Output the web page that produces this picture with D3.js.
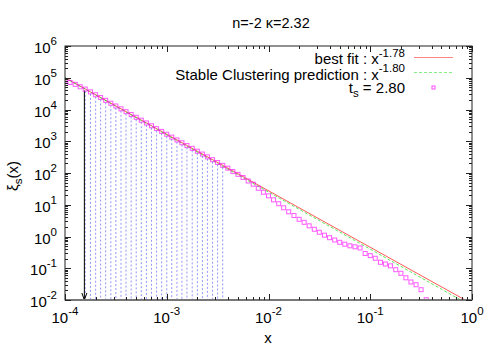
<!DOCTYPE html>
<html>
<head>
<meta charset="utf-8">
<script src="https://cdn.jsdelivr.net/npm/d3@7"></script>
<style>
  body { margin: 0; background: #fff; }
  svg { display: block; }
</style>
</head>
<body>
<div id="chart"></div>
<script>
const width = 500;
const height = 350;
const margin = {top: 46, right: 28, bottom: 50, left: 65};

// x sample points (log spaced)
const xs = [
  1.00e-4, 1.12e-4, 1.26e-4, 1.41e-4, 1.58e-4, 1.78e-4, 2.00e-4, 2.24e-4, 2.51e-4, 2.82e-4,
  3.16e-4, 3.55e-4, 3.98e-4, 4.47e-4, 5.01e-4, 5.62e-4, 6.31e-4, 7.08e-4, 7.94e-4, 8.91e-4,
  1.00e-3, 1.12e-3, 1.26e-3, 1.41e-3, 1.58e-3, 1.78e-3, 2.00e-3, 2.24e-3, 2.51e-3, 2.82e-3,
  3.16e-3, 3.55e-3, 3.98e-3, 4.47e-3, 5.01e-3, 5.62e-3, 6.31e-3, 7.08e-3, 7.94e-3, 8.91e-3,
  1.00e-2, 1.12e-2, 1.26e-2, 1.41e-2, 1.58e-2, 1.78e-2, 2.00e-2, 2.24e-2, 2.51e-2, 2.82e-2,
  3.16e-2, 3.55e-2, 3.98e-2, 4.47e-2, 5.01e-2, 5.62e-2, 6.31e-2, 7.08e-2, 7.94e-2, 8.91e-2,
  1.00e-1, 1.12e-1, 1.26e-1, 1.41e-1, 1.58e-1, 1.78e-1, 2.00e-1, 2.24e-1, 2.51e-1, 2.82e-1,
  3.16e-1, 3.55e-1
];
// xi_s(x) measured values, t_s = 2.80
const xis = [
  7.8e4, 7.1e4, 6.2e4, 5.2e4, 4.4e4, 3.59e4, 2.92e4, 2.38e4, 1.94e4, 1.58e4,
  1.29e4, 1.05e4, 8550, 6970, 5680, 4620, 3770, 3070, 2500, 2040,
  1660, 1350, 1100, 897, 731, 596, 485, 395, 322, 262,
  214, 174, 142, 111, 90.8, 72.4, 56.0, 44.4, 33.0, 24.8,
  19.1, 14.3, 10.8, 8.02, 6.00, 4.58, 3.48, 2.80, 2.17, 1.69,
  1.36, 1.10, 0.917, 0.776, 0.656, 0.572, 0.509, 0.474, 0.435, 0.292,
  0.250, 0.206, 0.154, 0.136, 0.119, 0.0900, 0.0693, 0.0500, 0.0369, 0.0303,
  0.0211, 0.0102
];
// power law fits: amplitude at x=1 and slope
const fitAmp = [0.00759, 0.00631];
const fitSlope = [-1.78, -1.80];
const fitLabels = ["best fit : x", "Stable Clustering prediction : x"];
const fitExps = ["-1.78", "-1.80"];
const fitColors = ["#ff2020", "#20e020"];
// range of the shaded (dotted) region, by sample index, and arrow position
const shadeFrom = 4, shadeTo = 31;
const arrowX = 1.55e-4;
const title = "n=-2 κ=2.32";
const xTicks = [1e-4, 1e-3, 1e-2, 1e-1, 1];
const yTicks = [1e-2, 1e-1, 1, 1e1, 1e2, 1e3, 1e4, 1e5, 1e6];

const font = "'Liberation Sans', Arial, sans-serif";

const svg = d3.select("#chart").append("svg")
    .attr("width", width)
    .attr("height", height)
    .attr("font-family", font)
    .attr("font-size", 15);

const x = d3.scaleLog().domain([1e-4, 1]).range([margin.left, width - margin.right]);
const y = d3.scaleLog().domain([1e-2, 1e6]).range([height - margin.bottom, margin.top]);

svg.append("clipPath").attr("id", "clip")
  .append("rect")
    .attr("x", x.range()[0]).attr("y", y.range()[1])
    .attr("width", x.range()[1] - x.range()[0])
    .attr("height", y.range()[0] - y.range()[1]);

const plot = svg.append("g").attr("clip-path", "url(#clip)");

// dotted verticals under the curve
plot.append("g")
  .selectAll("line")
  .data(d3.range(shadeFrom, shadeTo + 1))
  .join("line")
    .attr("x1", i => x(xs[i])).attr("x2", i => x(xs[i]))
    .attr("y1", i => y(xis[i]) + 2).attr("y2", y(1e-2))
    .attr("stroke", "#4040ff")
    .attr("stroke-opacity", 0.55)
    .attr("stroke-dasharray", "2,2");

// arrow
const ax = x(arrowX);
plot.append("line")
    .attr("x1", ax).attr("x2", ax)
    .attr("y1", y(fitAmp[0] * Math.pow(arrowX, fitSlope[0])) + 2).attr("y2", y(1e-2))
    .attr("stroke", "#000").attr("stroke-width", 1);
plot.append("path")
    .attr("d", `M${ax - 2.5},${y(1e-2) - 7}L${ax},${y(1e-2)}L${ax + 2.5},${y(1e-2) - 7}`)
    .attr("fill", "none").attr("stroke", "#000");

// fit lines
const lineGen = d3.line().x(d => x(d[0])).y(d => y(d[1]));
fitAmp.forEach((a, k) => {
  const pts = [1e-4, 1].map(v => [v, a * Math.pow(v, fitSlope[k])]);
  plot.append("path")
      .attr("d", lineGen(pts))
      .attr("fill", "none")
      .attr("stroke", fitColors[k])
      .attr("stroke-opacity", 0.75)
      .attr("stroke-dasharray", k === 1 ? "3,2" : null);
});

// data points
plot.append("g")
  .selectAll("rect")
  .data(xs.map((v, i) => [v, xis[i]]))
  .join("rect")
    .attr("x", d => x(d[0]) - 2)
    .attr("y", d => y(d[1]) - 2)
    .attr("width", 4).attr("height", 4)
    .attr("fill", "none")
    .attr("stroke", "#ff00ff")
    .attr("stroke-opacity", 0.65);

// border
const [x0, x1] = x.range();
const [yb, yt] = y.range();
svg.append("rect")
    .attr("x", x0).attr("y", yt)
    .attr("width", x1 - x0).attr("height", yb - yt)
    .attr("fill", "none").attr("stroke", "#222");
svg.append("line")
    .attr("x1", x0).attr("x2", x1).attr("y1", yb).attr("y2", yb)
    .attr("stroke", "#777").attr("stroke-width", 2);

// ticks on all four sides (inward)
function minors(lo, hi) {
  const out = [];
  for (let e = lo; e < hi; e++) for (let m = 2; m <= 9; m++) out.push(m * Math.pow(10, e));
  return out;
}
const tk = svg.append("g").attr("stroke", "#222");
const xt = xTicks.map(v => [v, 6]).concat(minors(-4, 0).map(v => [v, 3]));
const yt2 = yTicks.map(v => [v, 6]).concat(minors(-2, 6).map(v => [v, 3]));
xt.forEach(([v, l]) => {
  const px = Math.round(x(v)) + 0.5;
  tk.append("line").attr("x1", px).attr("x2", px).attr("y1", yb).attr("y2", yb - l);
  tk.append("line").attr("x1", px).attr("x2", px).attr("y1", yt).attr("y2", yt + l);
});
yt2.forEach(([v, l]) => {
  const py = Math.round(y(v)) + 0.5;
  tk.append("line").attr("x1", x0).attr("x2", x0 + l).attr("y1", py).attr("y2", py);
  tk.append("line").attr("x1", x1).attr("x2", x1 - l).attr("y1", py).attr("y2", py);
});

// tick labels
const expOf = v => Math.round(Math.log10(v));
svg.append("g").selectAll("text")
  .data(xTicks)
  .join("text")
    .attr("x", d => x(d))
    .attr("y", yb + 23)
    .attr("text-anchor", "middle")
    .each(function(d) {
      const t = d3.select(this);
      t.append("tspan").text("10");
      t.append("tspan").attr("dy", -8).attr("font-size", 11.5).text(expOf(d));
    });
svg.append("g").selectAll("text")
  .data(yTicks)
  .join("text")
    .attr("x", x0 - 8)
    .attr("y", d => y(d) + 7)
    .attr("text-anchor", "end")
    .each(function(d) {
      const t = d3.select(this);
      t.append("tspan").text("10");
      t.append("tspan").attr("dy", -8).attr("font-size", 11.5).text(expOf(d));
    });

// titles
svg.append("text")
    .attr("x", 271).attr("y", 28)
    .attr("text-anchor", "middle")
    .attr("font-size", 14.5)
    .text(title);
svg.append("text")
    .attr("x", 268).attr("y", 343)
    .attr("text-anchor", "middle")
    .text("x");
const yl = svg.append("text")
    .attr("transform", "translate(18,176) rotate(-90)")
    .attr("text-anchor", "middle");
yl.append("tspan").text("ξ");
yl.append("tspan").attr("dy", 4).attr("font-size", 11.5).text("s");
yl.append("tspan").attr("dy", -4).text("(x)");

// legend
const legX = 405, sx0 = 414, sx1 = 453;
const rowBase = [64, 79.5];
const rowSample = [57.5, 72.5];
fitLabels.forEach((lab, k) => {
  const t = svg.append("text")
      .attr("x", legX).attr("y", rowBase[k])
      .attr("text-anchor", "end");
  t.append("tspan").text(lab);
  t.append("tspan").attr("dy", -7.5).attr("font-size", 11.5).text(fitExps[k]);
  svg.append("line")
      .attr("x1", sx0).attr("x2", sx1)
      .attr("y1", rowSample[k]).attr("y2", rowSample[k])
      .attr("stroke", fitColors[k])
      .attr("stroke-opacity", 0.55)
      .attr("stroke-dasharray", k === 1 ? "3,2" : null);
});
const t3 = svg.append("text")
    .attr("x", legX).attr("y", 92.5)
    .attr("text-anchor", "end");
t3.append("tspan").text("t");
t3.append("tspan").attr("dy", 4).attr("font-size", 11.5).text("s");
t3.append("tspan").attr("dy", -4).text(" = 2.80");
svg.append("rect")
    .attr("x", 432).attr("y", 86)
    .attr("width", 3).attr("height", 3)
    .attr("fill", "none")
    .attr("stroke", "#ff00ff")
    .attr("stroke-opacity", 0.7);
</script>
</body>
</html>
